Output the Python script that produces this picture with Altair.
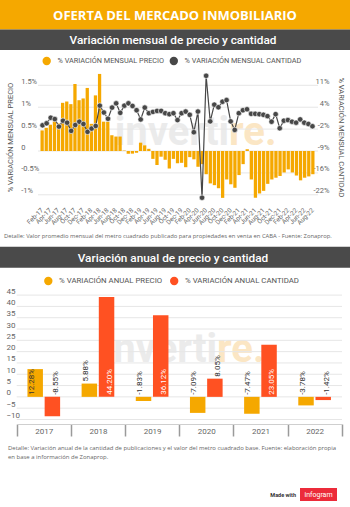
import altair as alt
import pandas as pd

# ---------------- data ----------------
anios_m = ["17", "18", "19", "20", "21", "22"]
abrev = ["Jan", "Feb", "Mar", "Apr", "May", "Jun", "Jul", "Aug", "Sep", "Oct", "Nov", "Dec"]
meses = [f"{m}-{a}" for a in anios_m for m in abrev][1:68]  # Feb-17 .. Aug-22

precio_mensual = [0.47, 0.53, 0.60, 0.68, 0.63, 1.10, 1.13, 1.07, 1.53, 1.16,
                  1.20, 1.44, 0.62, 1.27, 1.76, 0.67, 0.67, 0.36, 0.33, 0.33,
                  0.01, -0.06, -0.06, -0.04, 0.19, 0.13, 0.05, -0.18, -0.32, -0.13,
                  -0.20, -0.40, -0.18, -0.28, -0.27, -0.37, -0.14, -0.19, -0.36, -0.30,
                  -0.53, -0.74, -0.78, -0.85, -1.07, -0.65, -0.76, -0.84, -0.55, -0.30,
                  0.04, -0.65, -1.07, -0.97, -0.91, -0.75, -0.65, -0.61, -0.57, -0.49,
                  -0.42, -0.49, -0.56, -0.67, -0.61, -0.58, -0.53]

cantidad_mensual = [-1.2, -0.6, 1.1, 0.7, -1.6, 0.2, -0.4, -2.9, -1.1, -0.1,
                    -0.8, -3.2, -2.2, -1.4, 4.8, 2.7, 0.8, 4.2, 5.5, 2.6,
                    4.8, 5.5, 4.7, 3.4, 0.6, 4.2, 2.5, 2.9, 3.2, 3.2,
                    2.5, 2.2, 2.5, 0.4, 2.5, 3.0, 2.0, -3.3, 3.0, -23.3,
                    13.9, 0.0, 5.1, 4.3, 6.0, 6.5, 0.0, -2.6, 2.5, 3.4,
                    3.7, 2.3, 2.3, 2.2, 2.0, 1.6, -0.1, 2.2, -2.1, 0.2,
                    0.4, -0.1, -0.4, 0.6, -0.4, -0.8, -1.5]

anios = ["2017", "2018", "2019", "2020", "2021", "2022"]
precio_anual = [12.28, 5.88, -1.83, -7.09, -7.47, -3.78]
cantidad_anual = [-8.55, 44.20, 36.12, 8.05, 23.05, -1.42]

ticks_izq = [-1, -0.5, 0, 0.5, 1, 1.5]
ticks_der = [-22.4, -15.72, -9.04, -2.36, 4.32, 11.0]
ticks_anual = [-10, -5, 0, 5, 10, 15, 20, 25, 30, 35, 40, 45]

LP1 = "% VARIACIÓN MENSUAL PRECIO"
LC1 = "% VARIACIÓN MENSUAL CANTIDAD"
LP2 = "% VARIACIÓN ANUAL PRECIO"
LC2 = "% VARIACIÓN ANUAL CANTIDAD"

TITULO = "OFERTA DEL MERCADO INMOBILIARIO"
SUB1 = "Variación mensual de precio y cantidad"
SUB2 = "Variación anual de precio y cantidad"
DET1 = "Detalle: Valor promedio mensual del metro cuadrado publicado para propiedades en venta en CABA - Fuente: Zonaprop."
DET2 = ["Detalle: Variación anual de la cantidad de publicaciones y el valor del metro cuadrado base. Fuente: elaboración propia",
        "en base a información de Zonaprop."]

# ---------------- style ----------------
W, H = 350, 507
ORANGE = "#F5A800"
RED = "#FF5122"
DOT = "#474747"
BANNER = "#4A4A4A"
TXT = "#666666"
GRID = "#E6E6E6"
FONT = "Roboto"
WM_GRAY = "#EBEBEB"
WM_ORANGE = "#FBE6C4"

one = alt.Chart(pd.DataFrame({"k": [0]}))


def band(y0, y1, color):
    return one.mark_rect(color=color).encode(
        x=alt.value(0), x2=alt.value(W), y=alt.value(y0), y2=alt.value(y1))


def txt(t, x, y, **kw):
    return one.mark_text(text=t, **kw).encode(x=alt.value(x), y=alt.value(y))


def legend(labels, colors, xpos, y, size):
    d = pd.DataFrame({"lab": labels})
    xsc = alt.Scale(type="point", domain=labels, range=xpos, padding=0)
    csc = alt.Scale(domain=labels, range=colors)
    sym = alt.Chart(d).mark_circle(size=70, opacity=1).encode(
        x=alt.X("lab:N", scale=xsc, axis=None), y=alt.value(y),
        color=alt.Color("lab:N", scale=csc, legend=None))
    lab = alt.Chart(d).mark_text(align="left", baseline="middle", dx=10.8, font=FONT,
                                 fontSize=size, color="#555555").encode(
        x=alt.X("lab:N", scale=xsc, axis=None), y=alt.value(y + 0.3), text="lab:N")
    return alt.layer(sym, lab).resolve_scale(x="independent", color="independent")


# ---------------- monthly chart ----------------
dfm = pd.DataFrame({"mes": meses, "precio": precio_mensual,
                    "cantidad": cantidad_mensual, "idx": list(range(len(meses)))})

xs_top = alt.Scale(domain=meses, range=[40.5, 314.5], paddingInner=0.2, paddingOuter=0)
ys_left = alt.Scale(domain=[-1.08, 1.74], range=[198.3, 74.8], nice=False)
ys_right = alt.Scale(domain=[-23.47, 14.21], range=[198.3, 74.8], nice=False)

grid_top = alt.Chart(pd.DataFrame({"v": ticks_izq})).mark_rule(color=GRID).encode(
    y=alt.Y("v:Q", scale=ys_left, axis=None), x=alt.value(38), x2=alt.value(318))

axis_x_top = alt.Axis(orient="bottom", offset=-(H - 198.3), values=meses[::2], labelAngle=-45,
                      labelAlign="right", labelBaseline="middle", labelPadding=10.5,
                      labelFont=FONT, labelFontSize=6.5, labelColor=TXT, ticks=False,
                      domain=False, grid=False, title=None, labelOverlap=False)
axis_left = alt.Axis(orient="left", offset=-40, values=ticks_izq,
                     labelExpr="datum.value == 0 ? '0' : datum.value + '%'",
                     labelAlign="left", labelPadding=19.3, labelBaseline="bottom",
                     ticks=False, tickSize=0, domain=False, grid=False,
                     labelFont=FONT, labelFontSize=7.5, labelColor=TXT,
                     title=LP1, titleX=-30, titleY=137, titleAngle=270, titleBaseline="middle",
                     titleAlign="center", titleFont=FONT, titleFontSize=7.5,
                     titleFontWeight="normal", titleColor="#555555")
axis_right = alt.Axis(orient="right", offset=-35, values=ticks_der,
                      labelExpr="round(datum.value) + '%'",
                      labelAlign="right", labelPadding=14, labelBaseline="bottom",
                      ticks=False, tickSize=0, domain=False, grid=False,
                      labelFont=FONT, labelFontSize=7.5, labelColor=TXT,
                      title=LC1, titleX=25, titleY=137, titleAngle=90, titleBaseline="middle",
                      titleAlign="center", titleFont=FONT, titleFontSize=7.5,
                      titleFontWeight="normal", titleColor="#555555")

bars_top = alt.Chart(dfm).mark_bar(color=ORANGE).encode(
    x=alt.X("mes:N", scale=xs_top, sort=meses, axis=axis_x_top),
    y=alt.Y("precio:Q", scale=ys_left, axis=axis_left))

line_top = alt.Chart(dfm).mark_line(color=DOT, strokeWidth=1.2).encode(
    x=alt.X("mes:N", scale=xs_top, sort=meses, axis=None),
    y=alt.Y("cantidad:Q", scale=ys_right, axis=None),
    order=alt.Order("idx:Q"))

dots_top = alt.Chart(dfm).mark_circle(size=30, opacity=1, color=DOT, stroke="white",
                                      strokeWidth=0.6).encode(
    x=alt.X("mes:N", scale=xs_top, sort=meses, axis=None),
    y=alt.Y("cantidad:Q", scale=ys_right, axis=axis_right))

top = alt.layer(grid_top, bars_top, line_top, dots_top).resolve_scale(
    x="independent", y="independent")

leg_top = legend([LP1, LC1], [ORANGE, DOT], [46.7, 173.8], 61, 7.3)

# ---------------- annual chart ----------------
dfa = pd.DataFrame({"anio": anios * 2, "serie": [LP2] * 6 + [LC2] * 6,
                    "valor": precio_anual + cantidad_anual})
dfa["txt"] = [f"{v:.2f}%" for v in dfa["valor"]]
dfa["lpos"] = [v if 0 < v <= 11 else 0 for v in dfa["valor"]]
dfa["tcol"] = ["#FFFFFF" if (v > 11 and s == LC2) else "#333333"
               for v, s in zip(dfa["valor"], dfa["serie"])]

xs_bot = alt.Scale(domain=anios, range=[16.7, 341.7], paddingInner=0, paddingOuter=0)
xo_bot = alt.Scale(domain=[LP2, LC2], paddingInner=0.1, paddingOuter=0.625)
ys_bot = alt.Scale(domain=[-12, 45], range=[424, 295.1], nice=False)
col_bot = alt.Scale(domain=[LP2, LC2], range=[ORANGE, RED])

axis_x_bot = alt.Axis(orient="bottom", offset=-(H - 424), tickBand="extent", tickSize=12,
                      tickColor="#9A9A9A", tickWidth=1.5, domainColor="#CFCFCF", domainWidth=1,
                      labelPadding=-9, labelAngle=0, labelFont=FONT, labelFontSize=8,
                      labelColor=TXT, title=None, grid=False)
axis_y_bot = alt.Axis(orient="left", offset=-16.7, values=ticks_anual, labelAlign="left",
                      labelPadding=10.7, labelBaseline="bottom", ticks=False, tickSize=0,
                      domain=False, grid=False, labelFont=FONT, labelFontSize=8,
                      labelColor=TXT, title=None)

grid_bot = alt.Chart(pd.DataFrame({"v": ticks_anual})).mark_rule(color=GRID).encode(
    y=alt.Y("v:Q", scale=ys_bot, axis=None), x=alt.value(16.7), x2=alt.value(342))

bars_bot = alt.Chart(dfa).mark_bar().encode(
    x=alt.X("anio:N", scale=xs_bot, axis=axis_x_bot),
    xOffset=alt.XOffset("serie:N", scale=xo_bot, sort=[LP2, LC2]),
    y=alt.Y("valor:Q", scale=ys_bot, axis=axis_y_bot),
    color=alt.Color("serie:N", scale=col_bot, legend=None))

text_bot = alt.Chart(dfa).mark_text(angle=270, align="left", baseline="middle", dx=2,
                                    font=FONT, fontSize=8).encode(
    x=alt.X("anio:N", scale=xs_bot, axis=None),
    xOffset=alt.XOffset("serie:N", scale=xo_bot, sort=[LP2, LC2]),
    y=alt.Y("lpos:Q", scale=ys_bot, axis=None),
    text="txt:N",
    color=alt.Color("tcol:N", scale=None))

bottom = alt.layer(grid_bot, bars_bot, text_bot).resolve_scale(
    x="independent", y="independent", xOffset="independent")

leg_bot = legend([LP2, LC2], [ORANGE, RED], [48.3, 174.2], 281, 7.8)

# ---------------- decoration / texts ----------------
deco = [
    band(0, 29.5, ORANGE),
    band(29.5, 50, BANNER),
    band(246.7, 267.7, BANNER),
    txt(TITULO, 175, 15.5, font="Open Sans", fontWeight="bold", fontSize=13, color="white",
        align="center", baseline="middle"),
    txt(SUB1, 173, 40, font=FONT, fontWeight=500, fontSize=11.8, color="white",
        align="center", baseline="middle"),
    txt(SUB2, 173, 257.5, font=FONT, fontWeight=500, fontSize=11.8, color="white",
        align="center", baseline="middle"),
    txt("inverti", 229, 145, font=FONT, fontWeight="bold", fontSize=40, color=WM_GRAY,
        align="right", baseline="alphabetic"),
    txt("re.", 229, 145, font=FONT, fontWeight="bold", fontSize=40, color=WM_ORANGE,
        align="left", baseline="alphabetic"),
    txt("inverti", 217, 362, font=FONT, fontWeight="bold", fontSize=40, color=WM_GRAY,
        align="right", baseline="alphabetic"),
    txt("re.", 217, 362, font=FONT, fontWeight="bold", fontSize=40, color=WM_ORANGE,
        align="left", baseline="alphabetic"),
]

foot = [
    txt(DET1, 4, 235.5, font="Open Sans", fontSize=5.85, color=TXT, align="left", baseline="middle"),
    txt(DET2[0], 8, 447.5, font="Open Sans", fontSize=5.95, color=TXT, align="left", baseline="middle"),
    txt(DET2[1], 8, 457, font="Open Sans", fontSize=5.95, color=TXT, align="left", baseline="middle"),
    txt("Made with", 296, 494.5, font=FONT, fontWeight="bold", fontSize=5.5, color="#333333",
        align="right", baseline="middle"),
    one.mark_rect(color="#EC2B3A").encode(x=alt.value(300), x2=alt.value(337),
                                         y=alt.value(488), y2=alt.value(501)),
    txt("infogram", 318.5, 494.5, font=FONT, fontSize=7, color="white",
        align="center", baseline="middle"),
]

chart = alt.layer(*deco, top, leg_top, bottom, leg_bot, *foot).resolve_scale(
    x="independent", y="independent", color="independent"
).properties(
    width=W, height=H, padding=0,
    autosize=alt.AutoSizeParams(type="none"),
    background="white",
).configure_view(stroke=None)

chart.save("out.html", embed_options={"renderer": "svg", "actions": False})
